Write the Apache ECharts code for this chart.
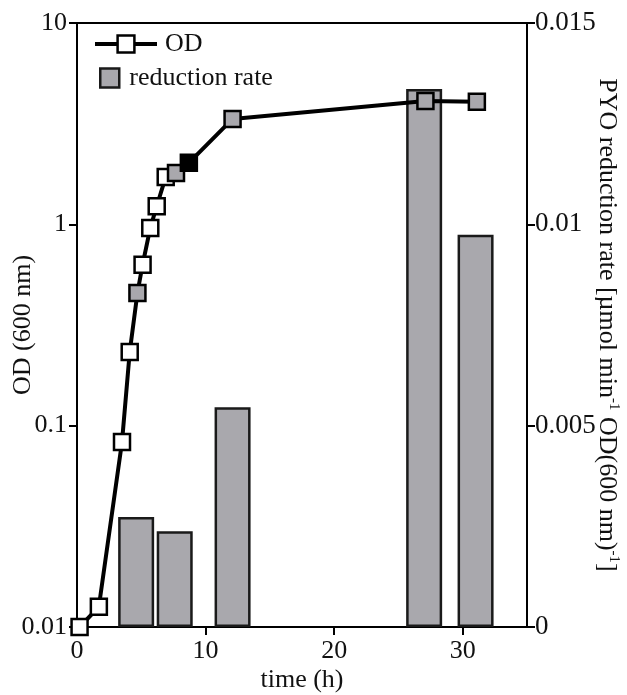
<!DOCTYPE html>
<html>
<head>
<meta charset="utf-8">
<script src="https://cdn.jsdelivr.net/npm/echarts@6/dist/echarts.min.js"></script>
<style>
  html, body { margin: 0; padding: 0; background: #fff; }
  #chart { width: 627px; height: 695px; }
</style>
</head>
<body>
<div id="chart"></div>
<script>
// Optical density growth curve (log scale, left axis)
const odTime  = [0.2, 1.7, 3.5, 4.1, 4.7, 5.1, 5.7, 6.2, 6.9, 7.7, 8.7, 12.1, 27.1, 31.1];
const odValue = [0.01, 0.0126, 0.083, 0.232, 0.456, 0.63, 0.96, 1.23, 1.72, 1.80, 2.02, 3.34, 4.10, 4.06];
// sample type per OD point: plain growth reading, reduction assay sample, other
const odKind  = ['plain', 'plain', 'plain', 'plain', 'assay', 'plain', 'plain', 'plain', 'plain', 'assay', 'other', 'assay', 'assay', 'assay'];

// PYO reduction rate (right axis)
const rateTime  = [4.6, 7.6, 12.1, 27.0, 31.0];
const rateValue = [0.00273, 0.00238, 0.00546, 0.01336, 0.00974];

// axis ticks
const timeTicks = [0, 10, 20, 30];
const odTicks   = [0.01, 0.1, 1, 10];
const odTickLabels = ['0.01', '0.1', '1', '10'];
const rateTickLabels = ['0', '0.005', '0.01', '0.015'];

const GREY = '#a9a8ad';
const kindColor = { plain: '#ffffff', assay: GREY, other: '#000000' };
const FONT = 'Liberation Serif';

const chart = echarts.init(document.getElementById('chart'), null, { renderer: 'canvas' });

const baseText = { fontFamily: FONT, fontSize: 26, color: '#111' };

chart.setOption({
  animation: false,
  backgroundColor: '#fff',
  grid: {
    left: 77, right: 100, top: 23, bottom: 68,
    containLabel: false, outerBoundsMode: 'none',
    show: true, borderColor: '#000', borderWidth: 2, backgroundColor: 'transparent'
  },
  legend: [
    {
      data: ['OD'],
      left: 93, top: 31, padding: 0,
      itemWidth: 62, itemHeight: 21,
      lineStyle: { color: '#000', width: 4 },
      itemStyle: { color: '#fff', borderColor: '#000', borderWidth: 2.5 },
      textStyle: Object.assign({}, baseText, { padding: [0, 0, 0, 3] }),
      selectedMode: false
    },
    {
      data: ['reduction rate'],
      left: 99, top: 65, padding: 0,
      icon: 'rect',
      itemWidth: 19, itemHeight: 19,
      itemStyle: { color: GREY, borderColor: '#1a1a1a', borderWidth: 2.5 },
      textStyle: Object.assign({}, baseText, { padding: [0, 0, 0, 5] }),
      selectedMode: false
    }
  ],
  xAxis: {
    type: 'value', min: 0, max: 35, interval: 10,
    name: 'time (h)', nameLocation: 'middle', nameGap: 40, nameMoveOverlap: false,
    nameTextStyle: baseText,
    axisLine: { lineStyle: { color: '#000', width: 2 } },
    axisTick: { inside: false, length: 8, lineStyle: { color: '#000', width: 2 }, customValues: timeTicks },
    axisLabel: Object.assign({}, baseText, { margin: 11, customValues: timeTicks }),
    splitLine: { show: false }
  },
  yAxis: [
    {
      type: 'log', logBase: 10, min: 0.01, max: 10,
      position: 'left',
      name: 'OD (600 nm)', nameLocation: 'middle', nameGap: 41, nameRotate: 90, nameMoveOverlap: false,
      nameTextStyle: baseText,
      axisLine: { show: true, lineStyle: { color: '#000', width: 2 } },
      axisTick: { show: true, inside: false, length: 8, lineStyle: { color: '#000', width: 2 } },
      minorTick: { show: false },
      axisLabel: Object.assign({}, baseText, {
        margin: 10,
        formatter: function (v) {
          let best = 0;
          odTicks.forEach(function (t, i) {
            if (Math.abs(Math.log10(t) - Math.log10(v)) < Math.abs(Math.log10(odTicks[best]) - Math.log10(v))) best = i;
          });
          return odTickLabels[best];
        }
      }),
      splitLine: { show: false }
    },
    {
      type: 'value', min: 0, max: 0.015, interval: 0.005,
      position: 'right',
      name: '{t|PYO reduction rate [µmol min}{s|-1}{t| OD(600 nm)}{s|-1}{t|]}',
      nameLocation: 'middle', nameGap: 67, nameRotate: -90, nameMoveOverlap: false,
      nameTextStyle: {
        rich: {
          t: { fontFamily: FONT, fontSize: 26, color: '#111', lineHeight: 28, verticalAlign: 'bottom' },
          s: { fontFamily: FONT, fontSize: 15, color: '#111', lineHeight: 28, verticalAlign: 'top', padding: [1, 0, 0, 0] }
        }
      },
      axisLine: { show: true, lineStyle: { color: '#000', width: 2 } },
      axisTick: { show: true, inside: false, length: 8, lineStyle: { color: '#000', width: 2 } },
      axisLabel: Object.assign({}, baseText, {
        fontSize: 27,
        margin: 8,
        formatter: function (v) { return rateTickLabels[Math.round(v / 0.005)]; }
      }),
      splitLine: { show: false }
    }
  ],
  series: [
    {
      name: 'reduction rate',
      type: 'bar',
      xAxisIndex: 0, yAxisIndex: 1,
      barWidth: 36,
      z: 2,
      itemStyle: { color: GREY, borderColor: '#1a1a1a', borderWidth: 2.5 },
      data: rateTime.map(function (t, i) { return [t, rateValue[i]]; })
    },
    {
      name: 'OD',
      type: 'line',
      xAxisIndex: 0, yAxisIndex: 0,
      clip: false,
      z: 5,
      symbol: 'rect', symbolSize: 16,
      lineStyle: { color: '#000', width: 4 },
      itemStyle: { color: '#fff', borderColor: '#000', borderWidth: 2.5 },
      data: odTime.map(function (t, i) {
        return { value: [t, odValue[i]], itemStyle: { color: kindColor[odKind[i]] } };
      })
    }
  ]
});
</script>
</body>
</html>
